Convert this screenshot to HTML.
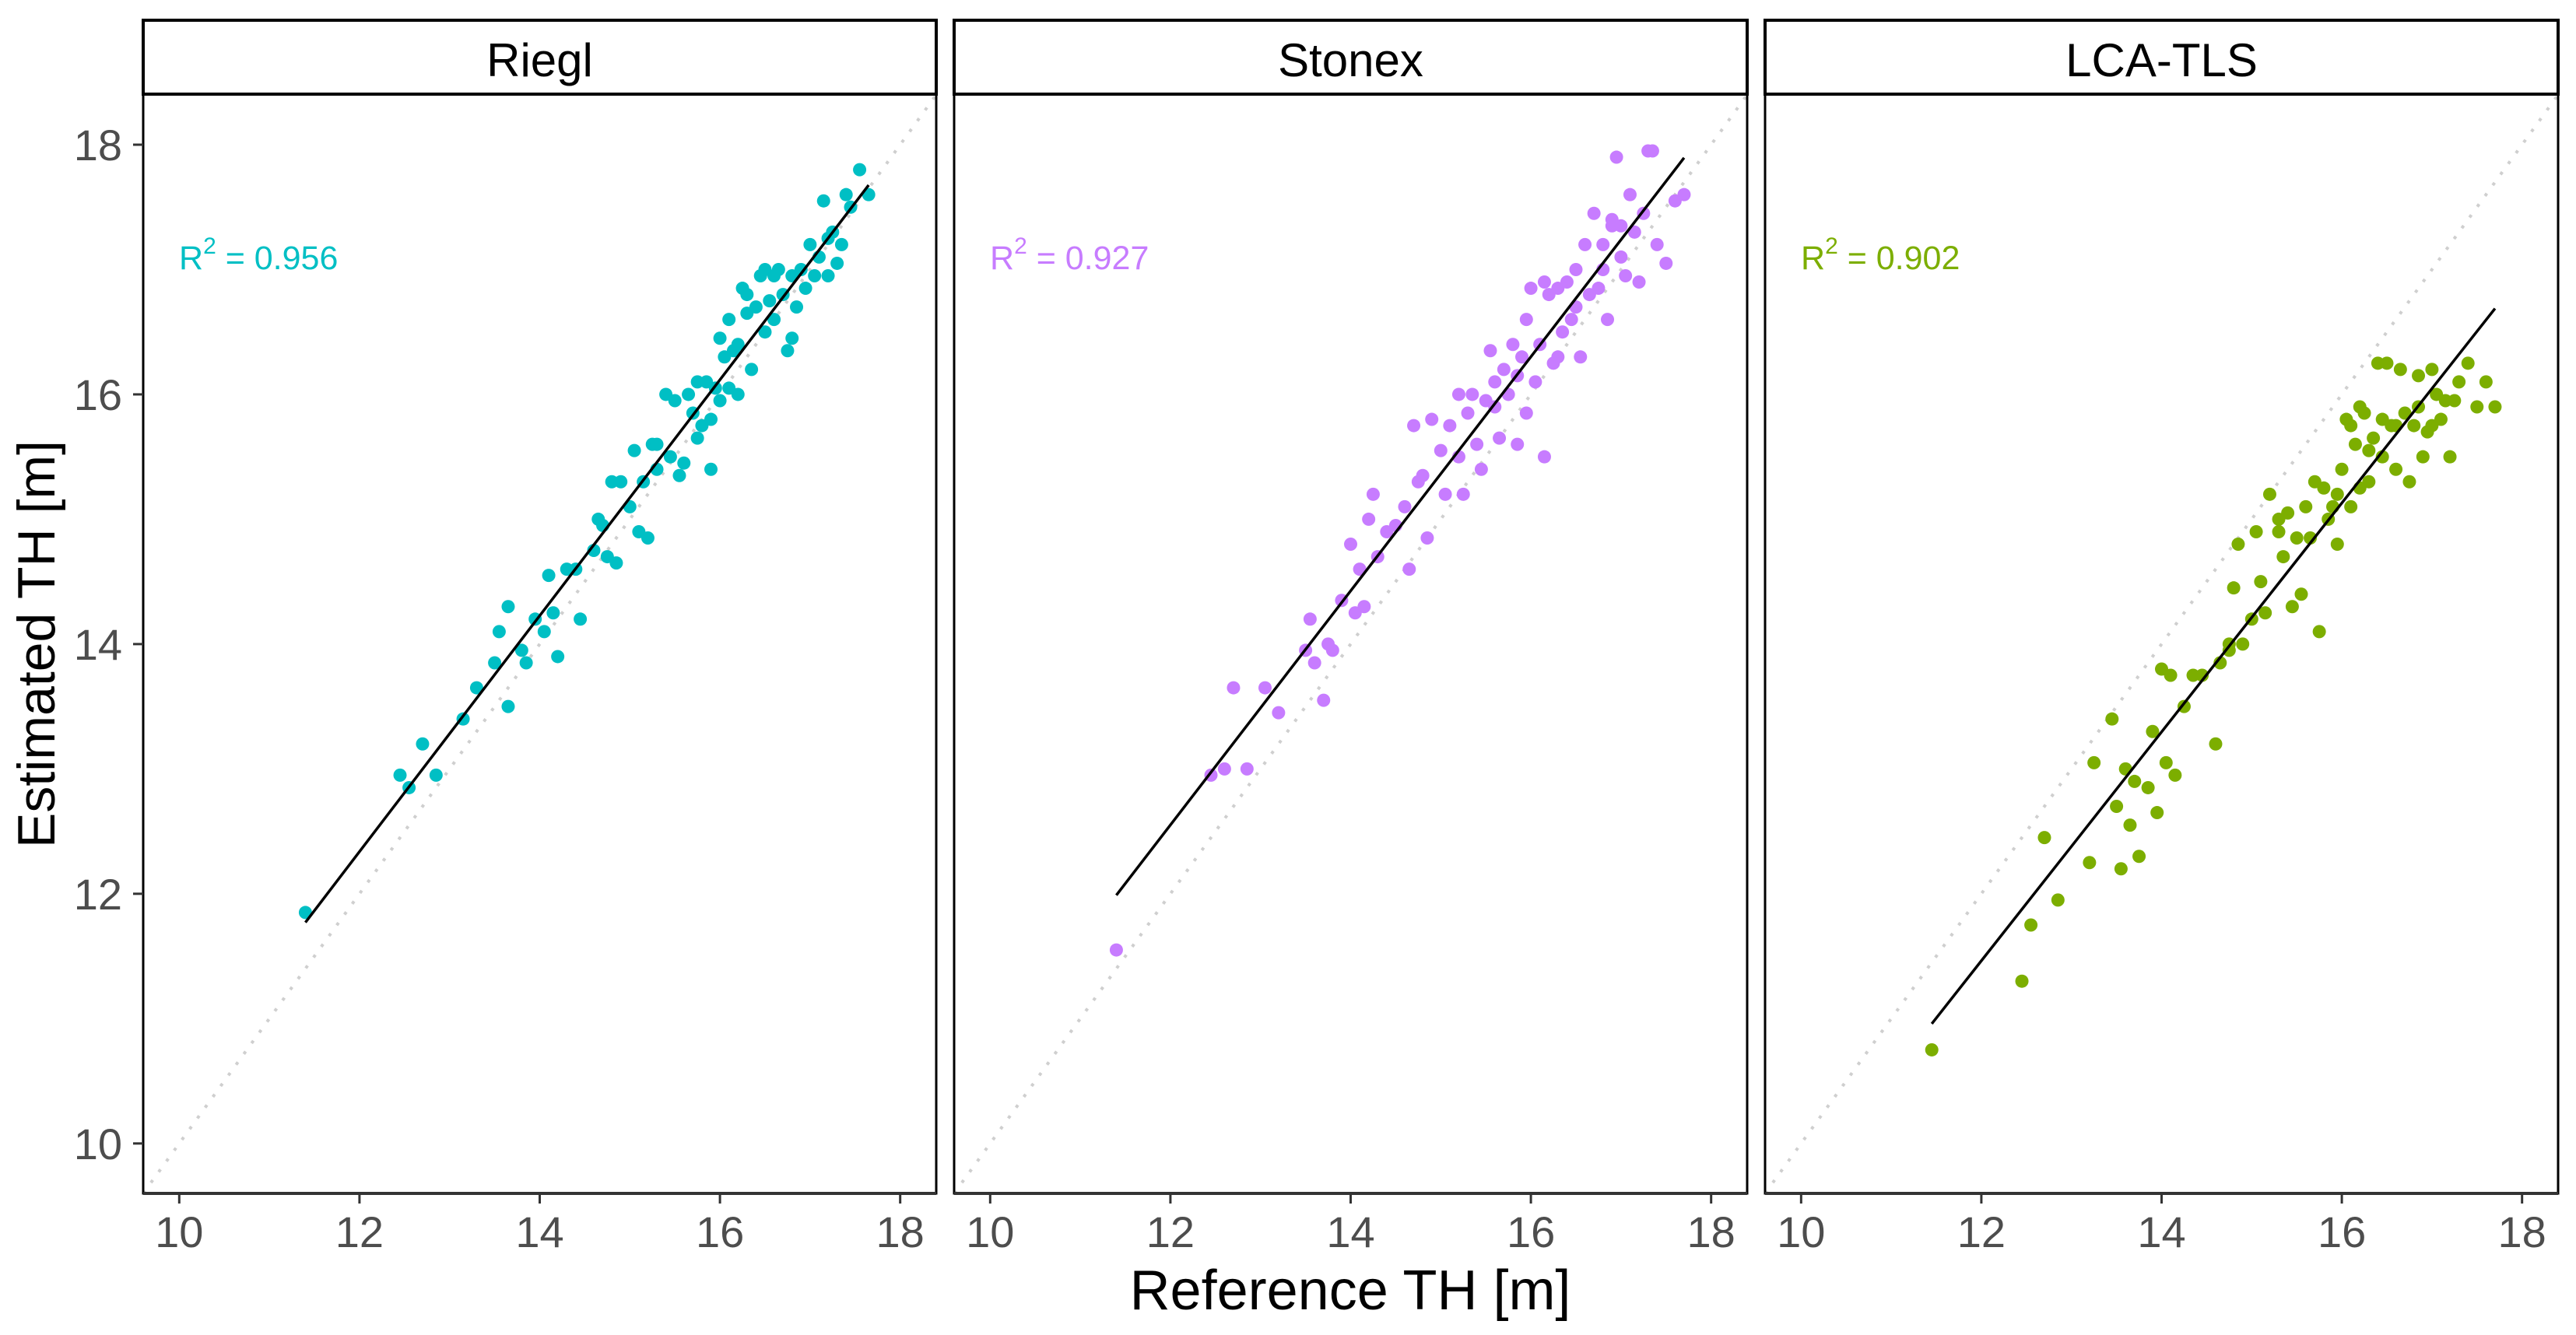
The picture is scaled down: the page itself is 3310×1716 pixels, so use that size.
<!DOCTYPE html>
<html><head><meta charset="utf-8"><style>
html,body{margin:0;padding:0;background:#fff;}
svg{display:block;font-family:"Liberation Sans",Arial,sans-serif;}
</style></head><body>
<svg id="chart" width="3310" height="1716" viewBox="0 0 3310 1716" xmlns="http://www.w3.org/2000/svg">
<text x="1735" y="1683" font-size="72" text-anchor="middle" fill="#000">Reference TH [m]</text>
<text transform="translate(70,828) rotate(-90)" font-size="68" text-anchor="middle" fill="#000">Estimated TH [m]</text>
</svg>
<script>
const panelNames = ["Riegl", "Stonex", "LCA-TLS"];
const panelColors = ["#00BFC4", "#C77CFF", "#7CAE00"];
const r2Labels = ["0.956", "0.927", "0.902"];
const xTicks = [10, 12, 14, 16, 18];
const yTicks = [10, 12, 14, 16, 18];
const rieglRef = [11.4,12.45,12.55,12.7,12.85,13.15,13.3,13.5,13.55,13.65,13.65,13.8,13.85,13.95,14.05,14.1,14.15,14.2,14.3,14.4,14.45,14.6,14.65,14.7,14.75,14.8,14.85,14.9,15.0,15.05,15.1,15.15,15.2,15.25,15.3,15.4,15.45,15.5,15.55,15.6,15.65,15.7,15.75,15.8,15.85,15.9,15.9,15.95,16.0,16.05,16.1,16.15,16.2,16.25,16.3,16.35,16.4,16.45,16.5,16.55,16.6,16.65,16.7,16.75,16.8,16.85,16.9,16.95,17.0,17.05,17.1,17.15,17.2,17.25,17.3,17.35,17.4,17.45,17.55,17.65,16.2,16.0,16.3,16.6,17.2,16.5,15.3,16.8,16.1,15.75];
const rieglEst = [11.85,12.95,12.85,13.2,12.95,13.4,13.65,13.85,14.1,14.3,13.5,13.95,13.85,14.2,14.1,14.55,14.25,13.9,14.6,14.6,14.2,14.75,15.0,14.95,14.7,15.3,14.65,15.3,15.1,15.55,14.9,15.3,14.85,15.6,15.4,16.0,15.5,15.95,15.35,15.45,16.0,15.85,16.1,15.75,16.1,15.8,15.4,16.05,16.45,16.3,16.05,16.35,16.4,16.85,16.65,16.2,16.7,16.95,16.5,16.75,16.6,17.0,16.8,16.35,16.95,16.7,17.0,16.85,17.2,16.95,17.1,17.55,16.95,17.3,17.05,17.2,17.6,17.5,17.8,17.6,16.0,15.95,16.8,16.95,17.25,17.0,15.6,16.45,16.6,15.65];
const stonexRef = [11.4,12.45,12.6,12.7,12.85,13.05,13.2,13.5,13.55,13.6,13.7,13.75,13.8,13.9,14.0,14.05,14.1,14.15,14.2,14.25,14.3,14.4,14.5,14.6,14.65,14.7,14.75,14.8,14.85,14.9,15.0,15.05,15.1,15.2,15.25,15.3,15.35,15.4,15.45,15.5,15.55,15.6,15.65,15.7,15.75,15.8,15.85,15.9,15.95,16.0,16.05,16.1,16.15,16.2,16.25,16.3,16.35,16.4,16.45,16.5,16.55,16.6,16.65,16.7,16.75,16.8,16.85,16.9,16.95,17.0,17.05,17.1,17.15,17.2,17.25,17.3,17.35,17.4,17.5,17.6,17.7,15.95,16.3,15.6,16.9,16.5,15.2,17.0,15.85,16.15,16.8];
const stonexEst = [11.55,12.95,13.0,13.65,13.0,13.65,13.45,13.95,14.2,13.85,13.55,14.0,13.95,14.35,14.8,14.25,14.6,14.3,15.0,15.2,14.7,14.9,14.95,15.1,14.6,15.75,15.3,15.35,14.85,15.8,15.55,15.2,15.75,15.5,15.2,15.85,16.0,15.6,15.4,15.95,16.35,16.1,15.65,16.2,16.0,16.4,15.6,16.3,15.85,16.85,16.1,16.4,15.5,16.8,16.25,16.85,16.5,16.9,16.6,17.0,16.3,17.2,16.8,17.45,16.85,17.0,16.6,17.35,17.9,17.1,16.95,17.6,17.3,16.9,17.45,17.95,17.95,17.2,17.05,17.55,17.6,16.6,16.3,15.9,17.4,16.7,16.0,17.35,16.15,16.9,17.2];
const lcaRef = [11.45,12.45,12.55,12.7,12.85,13.2,13.25,13.45,13.5,13.55,13.6,13.65,13.7,13.75,13.85,13.9,13.95,14.0,14.05,14.1,14.15,14.25,14.35,14.45,14.6,14.65,14.75,14.8,14.85,14.9,15.0,15.05,15.1,15.15,15.2,15.3,15.35,15.4,15.45,15.5,15.55,15.6,15.65,15.7,15.75,15.8,15.85,15.9,15.95,16.0,16.05,16.1,16.15,16.2,16.25,16.3,16.35,16.4,16.45,16.5,16.55,16.6,16.65,16.7,16.75,16.8,16.85,16.9,16.95,17.0,17.05,17.1,17.15,17.2,17.3,17.4,17.5,17.6,17.7,16.2,16.3,15.95,16.6,17.0,16.1,15.3,16.45,16.85,17.25,14.75];
const lcaEst = [10.75,11.3,11.75,12.45,11.95,12.25,13.05,13.4,12.7,12.2,13.0,12.55,12.9,12.3,12.85,13.3,12.65,13.8,13.05,13.75,12.95,13.5,13.75,13.75,13.2,13.85,13.95,14.45,14.8,14.0,14.2,14.9,14.5,14.25,15.2,15.0,14.7,15.05,14.3,14.85,14.4,15.1,14.85,15.3,14.1,15.25,15.0,15.1,14.8,15.4,15.8,15.1,15.6,15.25,15.85,15.3,15.65,16.25,15.5,16.25,15.75,15.4,16.2,15.85,15.3,15.75,15.9,15.5,15.7,16.2,16.0,15.8,15.95,15.5,16.1,16.25,15.9,16.1,15.9,15.9,15.55,15.2,15.75,15.75,15.75,14.9,15.8,16.15,15.95,14.0];
const refSeries = [rieglRef, stonexRef, lcaRef];
const estSeries = [rieglEst, stonexEst, lcaEst];

const NS = "http://www.w3.org/2000/svg";
const svg = document.getElementById("chart");
const panelLefts = [184, 1226, 2268];
const PW = 1019, PT = 121, PB = 1534, STRIP_TOP = 26;
const X0 = 9.6, X1 = 18.4, Y0 = 9.6, Y1 = 18.405;
function mk(tag, attrs, parent) {
  const el = document.createElementNS(NS, tag);
  for (const k in attrs) el.setAttribute(k, attrs[k]);
  (parent || svg).appendChild(el);
  return el;
}
function yScale(v) { return PB - (v - Y0) / (Y1 - Y0) * (PB - PT); }

panelNames.forEach((name, p) => {
  const L = panelLefts[p];
  const xScale = v => L + (v - X0) / (X1 - X0) * PW;
  const g = mk("g", {});
  
  
  const strip = mk("rect", {x: L, y: STRIP_TOP, width: PW, height: PT - STRIP_TOP, fill: "#fff", stroke: "#000", "stroke-width": 4}, g);
  
  
  const st = mk("text", {x: L + PW / 2, y: 98, "font-size": 60, "text-anchor": "middle", fill: "#000"}, g);
  st.textContent = name;
  
  
  const d = mk("line", {x1: xScale(X0), y1: yScale(X0), x2: xScale(Y1), y2: yScale(Y1), stroke: "#cfcfcf", "stroke-width": 4, "stroke-dasharray": "4 13"}, g);
  
  
  const xs = refSeries[p], ys = estSeries[p];
  xs.forEach((xv, i) => {
    const c = mk("circle", {cx: xScale(xv), cy: yScale(ys[i]), r: 8.5, fill: panelColors[p]}, g);
    
    
  });
  const n = xs.length;
  const mx = xs.reduce((a, b) => a + b, 0) / n, my = ys.reduce((a, b) => a + b, 0) / n;
  let sxy = 0, sxx = 0;
  for (let i = 0; i < n; i++) { sxy += (xs[i] - mx) * (ys[i] - my); sxx += (xs[i] - mx) ** 2; }
  const b = sxy / sxx, a = my - b * mx;
  const xmin = Math.min(...xs), xmax = Math.max(...xs);
  const rl = mk("line", {x1: xScale(xmin), y1: yScale(a + b * xmin), x2: xScale(xmax), y2: yScale(a + b * xmax), stroke: "#000", "stroke-width": 3.5}, g);
  
  
  const t = mk("text", {x: L + 46, y: 346, "font-size": 43, fill: panelColors[p]}, g);
  t.innerHTML = 'R<tspan dy="-20" font-size="30">2</tspan><tspan dy="20"> = ' + r2Labels[p] + '</tspan>';
  
  
  const bd = mk("rect", {x: L, y: PT, width: PW, height: PB - PT, fill: "none", stroke: "#000", "stroke-width": 3}, g);
  
  
  mk("line", {x1: L, y1: PB, x2: L + PW, y2: PB, stroke: "#333", "stroke-width": 4}, g);
  xTicks.forEach(v => {
    mk("line", {x1: xScale(v), y1: PB, x2: xScale(v), y2: PB + 13, stroke: "#333", "stroke-width": 3}, g);
    const tl = mk("text", {x: xScale(v), y: 1603, "font-size": 56, "text-anchor": "middle", fill: "#4d4d4d"}, g);
    tl.textContent = v;
    
    
  });
  if (p === 0) {
    yTicks.forEach(v => {
      mk("line", {x1: L - 13, y1: yScale(v), x2: L, y2: yScale(v), stroke: "#333", "stroke-width": 3}, g);
      const tl = mk("text", {x: 157, y: yScale(v) + 20, "font-size": 56, "text-anchor": "end", fill: "#4d4d4d"}, g);
      tl.textContent = v;
      
      
    });
  }
});
</script>
</body></html>
